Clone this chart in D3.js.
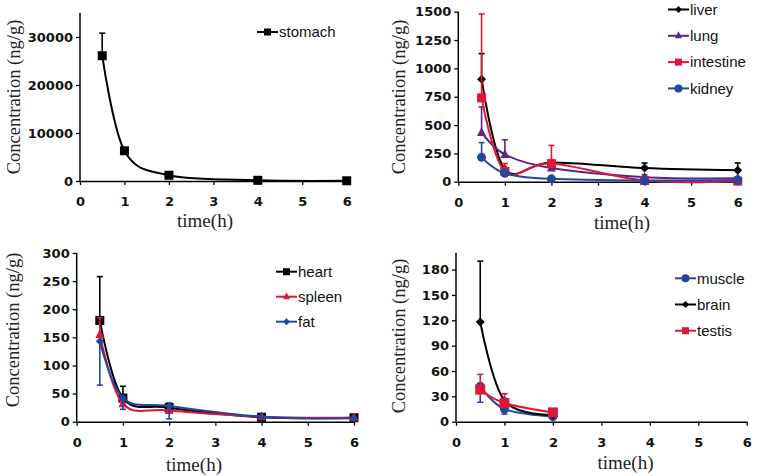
<!DOCTYPE html>
<html>
<head>
<meta charset="utf-8">
<script src="https://cdn.jsdelivr.net/npm/d3@7"></script>
<style>
  body { margin: 0; background: #fff; }
  svg { display: block; }
</style>
</head>
<body>
<div id="chart"></div>
<script>
// sampling times (h)
var times = [0.5, 1, 2, 4, 6];
var timesShort = [0.5, 1, 2];
var xTicks = [0, 1, 2, 3, 4, 5, 6];

// panel A
var stomach = [26100, 6300, 1200, 150, 50];
var stomachErr = [4700, 0, 0, 0, 0];

// panel B
var liver = [905, 110, 170, 120, 100];
var liverErr = [225, 0, 0, 45, 65];
var lung = [435, 240, 120, 40, 30];
var lungErr = [225, 130, 0, 20, 0];
var intestine = [740, 90, 160, 10, 5];
var intestineErr = [740, 70, 160, 0, 0];
var kidney = [215, 75, 25, 10, 15];
var kidneyErr = [130, 0, 0, 0, 0];

// panel C
var heart = [180, 42, 25, 8, 7];
var heartErr = [78, 21, 8, 0, 0];
var spleen = [155, 32, 20, 9, 7];
var spleenErr = [30, 0, 0, 0, 0];
var fat = [143, 42, 28, 9, 6];
var fatErr = [78, 20, 23, 0, 0];

// panel D
var muscle = [42, 15, 6];
var muscleErr = [19, 6, 0];
var brain = [118, 25, 8];
var brainErr = [72, 0, 0];
var testis = [38, 22, 11];
var testisErr = [18, 11, 0];

var black = "#000000", red = "#e0153a", blue = "#25479b", purple = "#5e2487";

var svg = d3.select('#chart').append('svg')
    .attr('width', 760)
    .attr('height', 476);

var panels = [
  {x0: 80, x1: 346.7, y0: 181, y1: 13, ymax: 35000, yTicks: [0, 10000, 20000, 30000],
   yTitle: [13.5, 97], xTitle: [205, 226.5],
   legend: {x: 257, y: 32, dy: 26},
   series: [{name: 'stomach', t: times, v: stomach, e: stomachErr, dir: 1, color: black, shape: 'square', size: 9}]},
  {x0: 458.3, x1: 737.7, y0: 181.7, y1: 11.7, ymax: 1500, yTicks: [0, 250, 500, 750, 1000, 1250, 1500],
   yTitle: [398.5, 97], xTitle: [622, 228.5],
   legend: {x: 668, y: 9.5, dy: 26.3},
   series: [
     {name: 'liver', t: times, v: liver, e: liverErr, dir: 1, color: black, shape: 'diamond', size: 9},
     {name: 'lung', t: times, v: lung, e: lungErr, dir: 1, color: purple, shape: 'triangle', size: 9},
     {name: 'intestine', t: times, v: intestine, e: intestineErr, dir: 1, color: red, shape: 'square', size: 9},
     {name: 'kidney', t: times, v: kidney, e: kidneyErr, dir: 1, color: blue, shape: 'circle', size: 9}]},
  {x0: 76.7, x1: 354, y0: 421.7, y1: 253, ymax: 300, yTicks: [0, 50, 100, 150, 200, 250, 300],
   yTitle: [12.5, 330], xTitle: [194, 470.5],
   legend: {x: 276, y: 271.7, dy: 25},
   series: [
     {name: 'heart', t: times, v: heart, e: heartErr, dir: 1, color: black, shape: 'square', size: 9},
     {name: 'spleen', t: times, v: spleen, e: spleenErr, dir: 1, color: red, shape: 'triangle', size: 9},
     {name: 'fat', t: times, v: fat, e: fatErr, dir: -1, color: blue, shape: 'diamond', size: 8}]},
  {x0: 456, x1: 746.7, y0: 421.7, y1: 252.7, ymax: 200, yTicks: [0, 30, 60, 90, 120, 150, 180],
   yTitle: [399, 336], xTitle: [625.5, 469],
   legend: {x: 675, y: 278.3, dy: 26.2},
   series: [
     {name: 'muscle', t: timesShort, v: muscle, e: muscleErr, dir: -1, color: blue, shape: 'circle', size: 9},
     {name: 'brain', t: timesShort, v: brain, e: brainErr, dir: 1, color: black, shape: 'diamond', size: 9},
     {name: 'testis', t: timesShort, v: testis, e: testisErr, dir: 1, color: red, shape: 'square', size: 10}]}
];

function drawMarker(g, shape, cx, cy, size, color) {
  var s = size / 2;
  if (shape == 'square') {
    g.append('rect').attr('x', cx - s).attr('y', cy - s).attr('width', size).attr('height', size).attr('fill', color);
  } else if (shape == 'circle') {
    g.append('circle').attr('cx', cx).attr('cy', cy).attr('r', s).attr('fill', color);
  } else if (shape == 'diamond') {
    g.append('path').attr('d', 'M' + cx + ',' + (cy - s) + 'L' + (cx + s) + ',' + cy + 'L' + cx + ',' + (cy + s) + 'L' + (cx - s) + ',' + cy + 'Z').attr('fill', color);
  } else {
    g.append('path').attr('d', 'M' + cx + ',' + (cy - s - 1) + 'L' + (cx + s) + ',' + (cy + s - 1) + 'L' + (cx - s) + ',' + (cy + s - 1) + 'Z').attr('fill', color);
  }
}

panels.forEach(function(p) {
  var x = d3.scaleLinear().domain([0, 6]).range([p.x0, p.x1]);
  var y = d3.scaleLinear().domain([0, p.ymax]).range([p.y0, p.y1]);
  var g = svg.append('g');

  // axes
  var xAxis = g.append('g').attr('transform', 'translate(0,' + p.y0 + ')')
      .call(d3.axisBottom(x).tickValues(xTicks).tickFormat(d3.format('d'))
        .tickSize(4).tickSizeOuter(0).tickPadding(12));
  var yAxis = g.append('g').attr('transform', 'translate(' + p.x0 + ',0)')
      .call(d3.axisLeft(y).tickValues(p.yTicks).tickFormat(d3.format('d'))
        .tickSize(4).tickSizeOuter(0).tickPadding(3));
  [xAxis, yAxis].forEach(function(a) {
    a.select('.domain').attr('stroke', '#000').attr('stroke-width', 1.5);
    a.selectAll('.tick line').attr('stroke', '#000').attr('stroke-width', 1.3);
    a.selectAll('.tick text').attr('font-family', 'DejaVu Sans, sans-serif')
      .attr('font-weight', 'bold').attr('font-size', '13px').attr('fill', '#111');
  });
  yAxis.select('.domain').attr('d', 'M0,' + p.y0 + 'V' + p.y1);

  // titles
  g.append('text').attr('transform', 'translate(' + p.yTitle[0] + ',' + p.yTitle[1] + ') rotate(-90)')
    .attr('text-anchor', 'middle').attr('dy', '0.35em')
    .attr('font-family', 'Liberation Serif, serif').attr('font-size', '18.5px').attr('fill', '#222')
    .text('Concentration (ng/g)');
  g.append('text').attr('x', p.xTitle[0]).attr('y', p.xTitle[1])
    .attr('text-anchor', 'middle')
    .attr('font-family', 'Liberation Serif, serif').attr('font-size', '19px').attr('fill', '#222')
    .text('time(h)');

  // excel-style smoothing
  var line = d3.line().x(function(d) { return x(d[0]); }).y(function(d) { return y(d[1]); })
      .curve(d3.curveCardinal.tension(0));

  p.series.forEach(function(s, si) {
    var pts = s.t.map(function(t, i) { return [t, s.v[i], s.e[i]]; });
    // error bars
    pts.forEach(function(d) {
      if (!d[2]) return;
      var cx = x(d[0]), ya = y(d[1]), yb = y(d[1] + s.dir * d[2]);
      g.append('line').attr('x1', cx).attr('x2', cx).attr('y1', ya).attr('y2', yb)
        .attr('stroke', s.color).attr('stroke-width', 1.6);
      g.append('line').attr('x1', cx - 3).attr('x2', cx + 3).attr('y1', yb).attr('y2', yb)
        .attr('stroke', s.color).attr('stroke-width', 1.6);
    });
    g.append('path').datum(pts).attr('d', line)
      .attr('fill', 'none').attr('stroke', s.color).attr('stroke-width', 2);
    pts.forEach(function(d) {
      drawMarker(g, s.shape, x(d[0]), y(d[1]), s.size, s.color);
    });

    // legend
    var ly = p.legend.y + si * p.legend.dy;
    g.append('line').attr('x1', p.legend.x).attr('x2', p.legend.x + 21).attr('y1', ly).attr('y2', ly)
      .attr('stroke', s.color).attr('stroke-width', 2);
    drawMarker(g, s.shape, p.legend.x + 10.5, ly, s.shape == 'circle' ? 8 : 7, s.color);
    g.append('text').attr('x', p.legend.x + 22).attr('y', ly).attr('dy', '0.35em')
      .attr('font-family', 'Liberation Sans, Arial, sans-serif').attr('font-size', '15px').attr('fill', '#111')
      .text(s.name);
  });
});
</script>
</body>
</html>
